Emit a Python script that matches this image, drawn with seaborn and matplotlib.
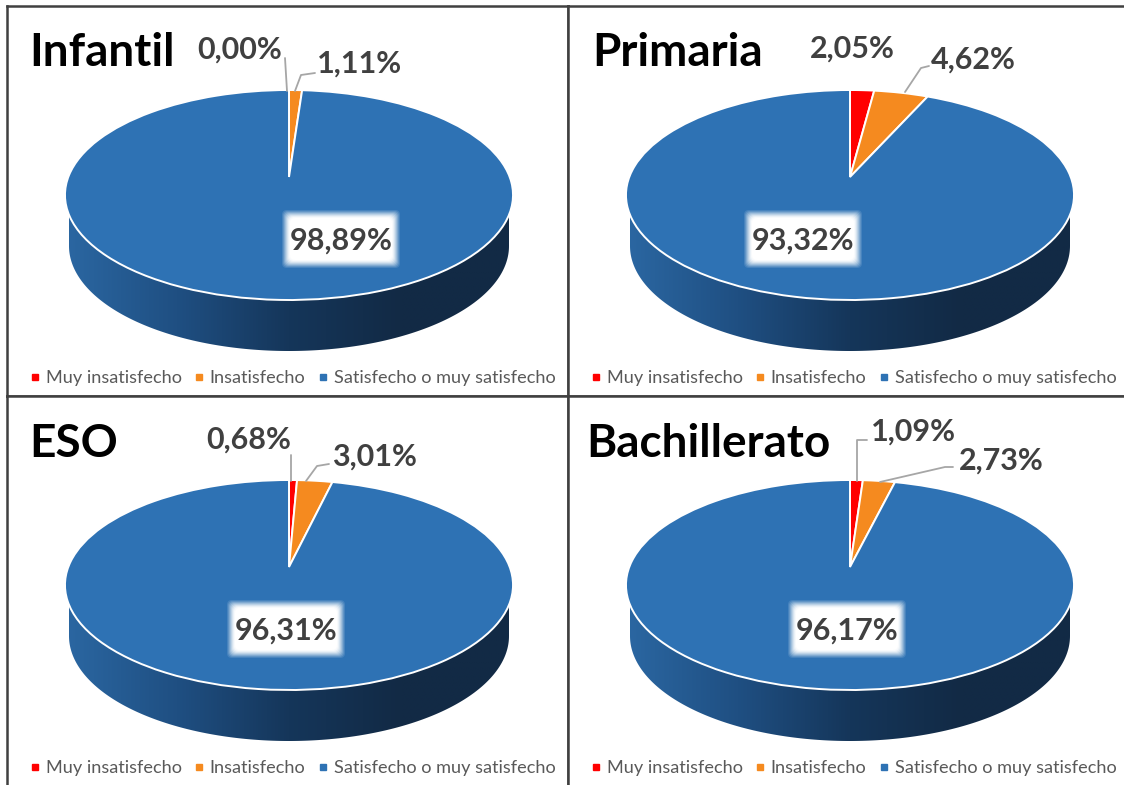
import matplotlib
matplotlib.use("Agg")
import matplotlib.pyplot as plt
import matplotlib.transforms as mtrans
from matplotlib.lines import Line2D
from matplotlib.patches import FancyBboxPatch, Polygon
import numpy as np
import seaborn as sns

# values
stages = ["Infantil", "Primaria", "ESO", "Bachillerato"]
categories = ["Muy insatisfecho", "Insatisfecho", "Satisfecho o muy satisfecho"]
muy_insatisfecho = [0.00, 2.05, 0.68, 1.09]
insatisfecho = [1.11, 4.62, 3.01, 2.73]
satisfecho = [98.89, 93.32, 96.31, 96.17]

colors = ["#ff0000", "#f58a1f", "#2e72b4"]
W, H = 1124, 785

# panel box in pixels and pie centre in pixels
panels = [
    dict(box=(7, 6, 568, 396), apex=(289, 177), title=(29, 53)),
    dict(box=(568, 6, 1140, 396), apex=(850, 177), title=(592, 53)),
    dict(box=(7, 396, 568, 800), apex=(289, 567), title=(29, 444)),
    dict(box=(568, 396, 1140, 800), apex=(850, 567), title=(586, 444)),
]
# label centres in pixels: red, orange, blue
label_pos = [
    [(240, 50), (360, 64), (341, 241)],
    [(852, 49), (973, 60), (803, 241)],
    [(249, 440), (374, 457), (286, 631)],
    [(913, 432), (1001, 461), (847, 631)],
]
# leader lines in pixels
leaders = [
    [[(287, 91), (285, 58)], [(295, 91), (301, 75), (315, 73)]],
    [[(905, 92), (921, 68), (929, 66)]],
    [[(291, 481), (291, 455)], [(306, 481), (317, 466), (329, 464)]],
    [[(857, 481), (857, 440), (867, 440)], [(880, 482), (945, 467), (953, 467)]],
]


class TiltTransform(mtrans.Transform):
    # perspective view of the unit circle, result in pixels around the centre
    input_dims = 2
    output_dims = 2
    is_separable = False

    def __init__(self, sx=220.7, sy=101.9, k=0.1715):
        super().__init__()
        self.sx, self.sy, self.k = sx, sy, k

    def transform_non_affine(self, values):
        values = np.asarray(values, dtype=float)
        w = 1 + self.k * values[:, 1]
        return np.column_stack([self.sx * values[:, 0] / w, self.sy * values[:, 1] / w])


sns.set_theme(style="white", font="Lato")
plt.rcParams["axes.edgecolor"] = "#404040"
side_cmap = sns.blend_palette(["#2b67a2", "#1f4f82", "#15365a", "#122a45", "#122a45"], as_cmap=True)

fig = plt.figure(figsize=(W / 100, H / 100), dpi=100, facecolor="white")


def add_glow(ax, cx, cy):
    # soft white box behind the big label
    for pad, a in [(10, 0.12), (9, 0.15), (8, 0.2), (7, 0.25), (6, 0.3), (5, 0.4), (4, 0.5), (3, 0.7), (2, 1.0)]:
        hw, hh = 49 + pad, 19 + pad
        ax.add_patch(FancyBboxPatch((cx - hw + 4, cy - hh + 4), 2 * hw - 8, 2 * hh - 8,
                                    boxstyle="round,pad=4,rounding_size=5", fc="white",
                                    ec="none", alpha=a, zorder=4))


for i, stage in enumerate(stages):
    x0, y0, x1, y1 = panels[i]["box"]
    ax_px, ay_px = panels[i]["apex"]
    ax = fig.add_axes([x0 / W, 1 - y1 / H, (x1 - x0) / W, (y1 - y0) / H])
    values = [muy_insatisfecho[i], insatisfecho[i], satisfecho[i]]

    wedges, _ = ax.pie(values, colors=colors, startangle=90, counterclock=False,
                       wedgeprops=dict(edgecolor="white", linewidth=1.4))
    tilt = TiltTransform()
    for w in wedges:
        w.set_transform(tilt + ax.transData)
        w.set_zorder(2)

    # side of the disc
    t = np.linspace(np.pi, 2 * np.pi, 200)
    side = np.column_stack([220 * np.cos(t), -69 + 105 * np.sin(t)])
    side = np.vstack([[-220, -18], side, [220, -18]])
    clip = Polygon(side, closed=True, transform=ax.transData)
    im = ax.imshow(np.linspace(0, 1, 256)[None, :], extent=(-224, 224, -180, -10),
                   aspect="auto", cmap=side_cmap, zorder=1)
    im.set_clip_path(clip)

    ax.set_aspect("auto")
    ax.set_xlim(x0 - ax_px, x1 - ax_px)
    ax.set_ylim(ay_px - y1, ay_px - y0)
    ax.set_frame_on(True)
    for s in ax.spines.values():
        s.set_linewidth(1.8)
        s.set_color("#404040")
    ax.set_xticks([])
    ax.set_yticks([])

    for line in leaders[i]:
        xs = [p[0] - ax_px for p in line]
        ys = [ay_px - p[1] for p in line]
        ax.plot(xs, ys, color="#a6a6a6", lw=1.3, zorder=3)

    tx, ty = panels[i]["title"]
    ax.text(tx - ax_px, ay_px - ty, stage, fontsize=33, fontweight="bold", color="black",
            ha="left", va="center", zorder=5)

    for j, v in enumerate(values):
        lx, ly = label_pos[i][j]
        if j == 2:
            add_glow(ax, lx - ax_px, ay_px - ly + 2)
        ax.text(lx - ax_px, ay_px - ly, f"{v:.2f}%".replace(".", ","), fontsize=22,
                fontweight="bold", color="#404040", ha="center", va="center", zorder=6)

    handles = [Line2D([], [], marker="s", ls="", ms=5, color=c) for c in colors]
    ax.legend(handles, categories, loc="center", bbox_to_anchor=(1.5, ay_px - (y0 + 372)),
              bbox_transform=ax.transData, ncol=3, frameon=False, fontsize=13.1,
              labelcolor="#595959", handlelength=1.0, handletextpad=0.1,
              columnspacing=0.45, borderpad=0, borderaxespad=0)

fig.savefig("out.png", dpi=100, facecolor="white")
